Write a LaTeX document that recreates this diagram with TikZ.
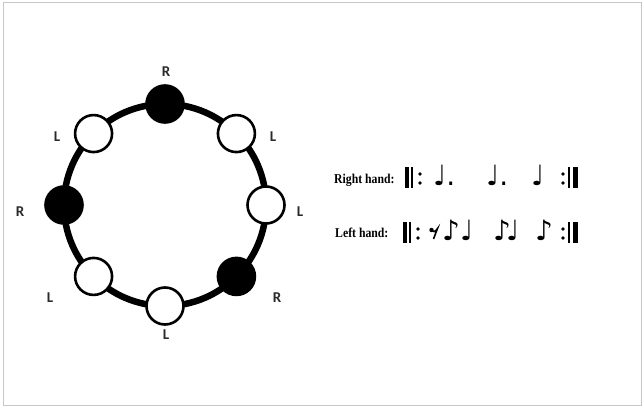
\documentclass[tikz,border=0pt]{standalone}
\usepackage{fontspec}
\usepackage{xcolor}
\newfontfamily\beatfont{Carlito}
\newfontfamily\handfont[FakeStretch=0.87]{Liberation Serif}
\newfontfamily\notefont{DejaVu Sans}
\definecolor{Frame}{HTML}{C6C6C6}
\definecolor{Ink}{HTML}{000000}
\definecolor{LabelInk}{HTML}{2B2B2B}

\begin{document}
\begin{tikzpicture}[x=1pt,y=1pt,beat/.style={circle,draw=Ink,line width=2.6pt,minimum size=37pt,inner sep=0pt},hit/.style={beat,fill=Ink},miss/.style={beat,fill=white},side/.style={font=\beatfont\bfseries\fontsize{15}{17}\selectfont,text=LabelInk,inner sep=0pt},hand/.style={font=\handfont\bfseries\fontsize{13.5}{15}\selectfont,anchor=base west,inner sep=0pt},note/.style={font=\notefont\fontsize{28}{30}\selectfont,anchor=base west,inner sep=0pt}]
\fill[white] (0,0) rectangle (644,407);
\draw[Frame,line width=1pt] (3,1.5) rectangle (641.5,404);

% ring of eight beats
\coordinate (ctr) at (165,202);
\draw[Ink,line width=6.5pt] (ctr) circle (101);
\foreach \n/\a/\s in {b1/90/hit,b2/45/miss,b3/0/miss,b4/-45/hit,b5/-90/miss,b6/-135/miss,b7/180/hit,b8/135/miss}
  \node[\s] (\n) at ([shift={(\a:101)}]ctr) {};
\node[side] (s1) at (166,335) {R}; \node[side] (s2) at (273,270) {L}; \node[side] (s3) at (300,195) {L}; \node[side] (s4) at (277,109) {R};
\node[side] (s5) at (166,72) {L}; \node[side] (s6) at (50,109) {L}; \node[side] (s7) at (20,195) {R}; \node[side] (s8) at (57,270) {L};

% the two rhythms
\node[hand] (rh) at (334,223) {Right hand:}; \node[hand] (lh) at (335,169) {Left hand:};
\foreach \dy/\dx in {0/0,-55/-2} {
  \fill[Ink] (404.5+\dx,219+\dy) rectangle (409+\dx,240+\dy); \fill[Ink] (411+\dx,219+\dy) rectangle (412.8+\dx,240+\dy);
  \fill[Ink] (420+\dx,233+\dy) circle (1.8); \fill[Ink] (420+\dx,224+\dy) circle (1.8);
  \fill[Ink] (563,233+\dy) circle (1.8); \fill[Ink] (563,224+\dy) circle (1.8);
  \fill[Ink] (568,219+\dy) rectangle (569.8,240+\dy); \fill[Ink] (572.5,219+\dy) rectangle (578,240+\dy);
}
\node[note] (n1) at (433,221) {♩.}; \node[note] (n2) at (486,221) {♩.}; \node[note] (n3) at (531,221) {♩};
\fill[Ink] (431.5,177) circle (2.2); \draw[Ink,line width=1.6pt] (431,176.5) .. controls (433,174.5) and (435.5,175) .. (437.5,178.5) -- (433.5,168);
\node[note] (n4) at (442,167) {♪}; \node[note] (n5) at (460,167) {♩};
\node[note] (n6) at (493,167) {♪}; \node[note] (n7) at (506,167) {♩}; \node[note] (n8) at (535,167) {♪};

\end{tikzpicture}
\end{document}
